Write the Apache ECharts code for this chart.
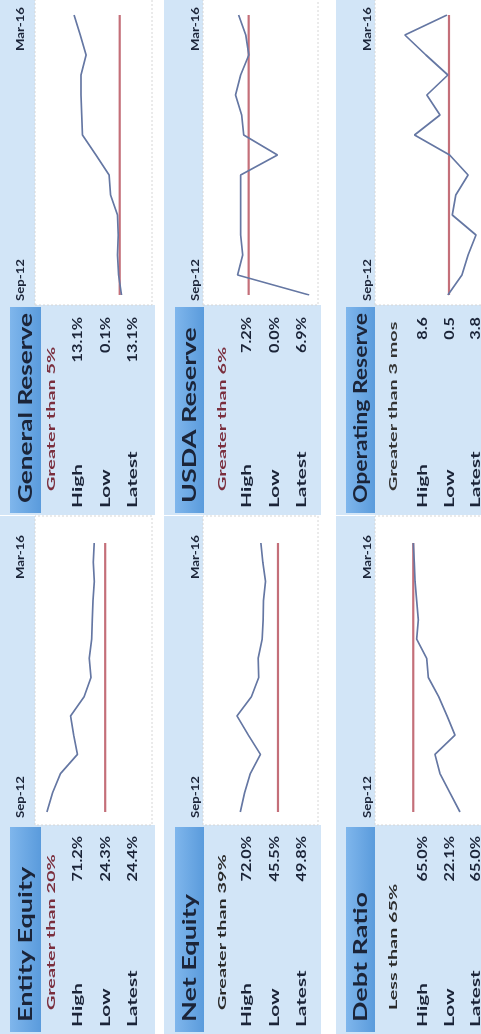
<!DOCTYPE html>
<html>
<head>
<meta charset="utf-8">
<script src="https://cdn.jsdelivr.net/npm/echarts@6/dist/echarts.min.js"></script>
<style>
  html, body { margin: 0; padding: 0; background: #ffffff; }
  #dash { width: 481px; height: 1034px; }
</style>
</head>
<body>
<div id="dash"></div>
<script>
// Quarter-end reporting dates shown on every sparkline
const quarters = ['Sep-12', 'Dec-12', 'Mar-13', 'Jun-13', 'Sep-13', 'Dec-13', 'Mar-14', 'Jun-14',
                  'Sep-14', 'Dec-14', 'Mar-15', 'Jun-15', 'Sep-15', 'Dec-15', 'Mar-16'];

// Ratio history, one value per quarter
const entityEquity     = [71.2, 65.6, 57.8, 41.0, 44.7, 47.8, 34.4, 27.6, 29.3, 26.9, 26.3, 25.6, 24.3, 25.3, 24.4];
const netEquity        = [68.9, 64.9, 59.6, 50.2, 61.4, 72.0, 58.6, 51.8, 52.3, 48.6, 47.7, 47.4, 45.5, 48.0, 49.8];
const debtRatio        = [22.1, 31.3, 40.5, 45.1, 26.7, 34.0, 41.7, 51.2, 52.7, 61.9, 60.4, 61.9, 63.4, 64.1, 65.0];
const generalReserve   = [0.1, 0.9, 1.2, 1.0, 1.2, 3.1, 3.5, 7.1, 10.8, 11.0, 11.2, 11.2, 9.8, 11.4, 13.1];
const usdaReserve      = [0.0, 7.0, 6.5, 6.7, 6.7, 6.7, 6.7, 3.1, 6.4, 6.6, 7.2, 6.7, 5.9, 6.2, 6.9];
const operatingReserve = [3.7, 2.1, 1.4, 0.5, 3.2, 2.8, 1.4, 3.5, 7.5, 4.6, 6.1, 3.7, 6.2, 8.6, 3.8];

// Panel texts
const titles     = ['Entity Equity', 'Net Equity', 'Debt Ratio', 'General Reserve', 'USDA Reserve', 'Operating Reserve'];
const targets    = ['Greater than 20%', 'Greater than 39%', 'Less than 65%', 'Greater than 5%', 'Greater than 6%', 'Greater than 3 mos'];
const targetVals = [20, 39, 65, 5, 6, 3];
const highs      = ['71.2%', '72.0%', '65.0%', '13.1%', '7.2%', '8.6'];
const lows       = ['24.3%', '45.5%', '22.1%', '0.1%', '0.0%', '0.5'];
const latests    = ['24.4%', '49.8%', '65.0%', '13.1%', '6.9%', '3.8'];
const rowLabels  = ['High', 'Low', 'Latest'];

const seriesList = [entityEquity, netEquity, debtRatio, generalReserve, usdaReserve, operatingReserve];

// ---- layout (dashboard is laid out landscape, u = across, v = down, then turned a quarter) ----
const PAGE_H = 1034;
const FONT = 'Lato, "Open Sans", sans-serif';
const columns = [
  { info: 0,   infoW: 209, box: 209, boxW: 309, d0: 222, d1: 491 },
  { info: 519, infoW: 210, box: 729, boxW: 310, d0: 739, d1: 1019 }
];
const rows = [
  { top: 0,   bottom: 155, title: 10,  titleH: 31, box: 35,  boxB: 152, cond: 51,  lines: [78, 106, 133], head: 20 },
  { top: 164, bottom: 321, title: 175, titleH: 29, box: 203, boxB: 318, cond: 222, lines: [247, 275, 302], head: 195 },
  { top: 336, bottom: 481, title: 346, titleH: 29, box: 375, boxB: 490, cond: 393, lines: [423, 450, 476], head: 367 }
];
// value-axis extents (left edge value, right edge value) and where the target line sits across each plot
const valueRange = [[83.0, -32.8], [103.5, -3.2], [100.2, 2.8], [23.8, -8.25], [10.38, -0.86], [12.0, -0.07]];
const targetPos  = [0.60, 0.652, 0.361, 0.724, 0.397, 0.698];
const condColors = ['#7a2e3d', '#2a2a2a', '#2a2a2a', '#7a2e3d', '#7a2e3d', '#333333'];

const INFO_BG = '#d2e5f7';
const TEXT_DARK = '#1b2438';

// text width at scale 1, used to keep long titles inside their bar
const measureCtx = document.createElement('canvas').getContext('2d');
function textWidth(s, size) {
  measureCtx.font = 'bold ' + size + 'px ' + FONT;
  return measureCtx.measureText(s).width;
}

function txt(u, v, s, size, opts) {
  opts = opts || {};
  return {
    type: 'text', x: u, y: v, scaleX: opts.sx || 1.4,
    style: {
      text: s, fontSize: size, fontFamily: FONT, fontWeight: opts.weight || 'bold',
      fill: opts.color || TEXT_DARK,
      align: opts.align || 'left', textAlign: opts.align || 'left',
      verticalAlign: 'middle', textVerticalAlign: 'middle'
    }
  };
}

const landscape = [];
const grids = [], xAxes = [], yAxes = [], series = [];

for (let c = 0; c < 2; c++) {
  for (let r = 0; r < 3; r++) {
    const i = c * 3 + r;
    const col = columns[c], row = rows[r];

    // info block and strip above the sparkline
    landscape.push({ type: 'rect', shape: { x: col.info, y: row.top, width: col.infoW, height: row.bottom - row.top },
                     style: { fill: INFO_BG } });
    landscape.push({ type: 'rect', shape: { x: col.box, y: row.top, width: col.boxW, height: row.box - row.top },
                     style: { fill: INFO_BG } });
    // plot area
    landscape.push({ type: 'rect', shape: { x: col.box, y: row.box, width: col.boxW, height: row.boxB - row.box },
                     style: { fill: '#ffffff', stroke: '#d6d6d6', lineWidth: 1, lineDash: [2, 2] } });
    // title bar
    landscape.push({ type: 'rect', shape: { x: col.info + 2, y: row.title, width: col.infoW - 4, height: row.titleH },
                     style: { fill: new echarts.graphic.LinearGradient(0, 0, 0, 1, [
                       { offset: 0, color: '#7fb6ec' }, { offset: 1, color: '#5a9bdc' }]) } });
    const titleSx = Math.min(1.5, (col.infoW - 20) / textWidth(titles[i], 18));
    landscape.push(txt(col.info + 12, row.title + row.titleH / 2 + 1, titles[i], 18, { sx: titleSx }));
    landscape.push(txt(col.info + 24, row.cond, targets[i], 12, { sx: 1.65, color: condColors[i] }));
    const vals = [highs[i], lows[i], latests[i]];
    for (let k = 0; k < 3; k++) {
      landscape.push(txt(col.info + 7, row.lines[k], rowLabels[k], 13, { sx: 1.6 }));
      landscape.push(txt(col.info + 198, row.lines[k], vals[k], 13, { sx: 1.25, align: 'right' }));
    }
    landscape.push(txt(col.d0 - 6, row.head, quarters[0], 11, { sx: 1.2 }));
    landscape.push(txt(col.d1 + 8, row.head, quarters[quarters.length - 1], 11, { sx: 1.2, align: 'right' }));

    // sparkline grid, placed on the turned page
    grids.push({ left: row.box, width: row.boxB - row.box, top: PAGE_H - col.d1, height: col.d1 - col.d0 });
    const rng = valueRange[i];
    xAxes.push({ type: 'value', gridIndex: i, inverse: true, max: rng[0], min: rng[1], show: false });
    const span = rng[0] - rng[1], f = targetPos[i], t = targetVals[i];
    xAxes.push({ type: 'value', gridIndex: i, inverse: true, max: t + f * span, min: t - (1 - f) * span, show: false });
    yAxes.push({ type: 'category', gridIndex: i, data: quarters, boundaryGap: false, show: false });

    series.push({
      type: 'line', xAxisIndex: 2 * i + 1, yAxisIndex: i, silent: true, symbol: 'none',
      lineStyle: { color: '#c46f79', width: 2.2 },
      data: [[t, quarters[0]], [t, quarters[quarters.length - 1]]]
    });
    series.push({
      type: 'line', xAxisIndex: 2 * i, yAxisIndex: i, silent: true, symbol: 'none',
      lineStyle: { color: '#6577a3', width: 1.7 },
      data: seriesList[i].map((v, k) => [v, quarters[k]])
    });
  }
}

const chart = echarts.init(document.getElementById('dash'), null, { renderer: 'canvas' });
chart.setOption({
  animation: false,
  backgroundColor: '#ffffff',
  graphic: [{ type: 'group', x: 0, y: PAGE_H, rotation: Math.PI / 2, z: -10, silent: true, children: landscape }],
  grid: grids,
  xAxis: xAxes,
  yAxis: yAxes,
  series: series
});
</script>
</body>
</html>
